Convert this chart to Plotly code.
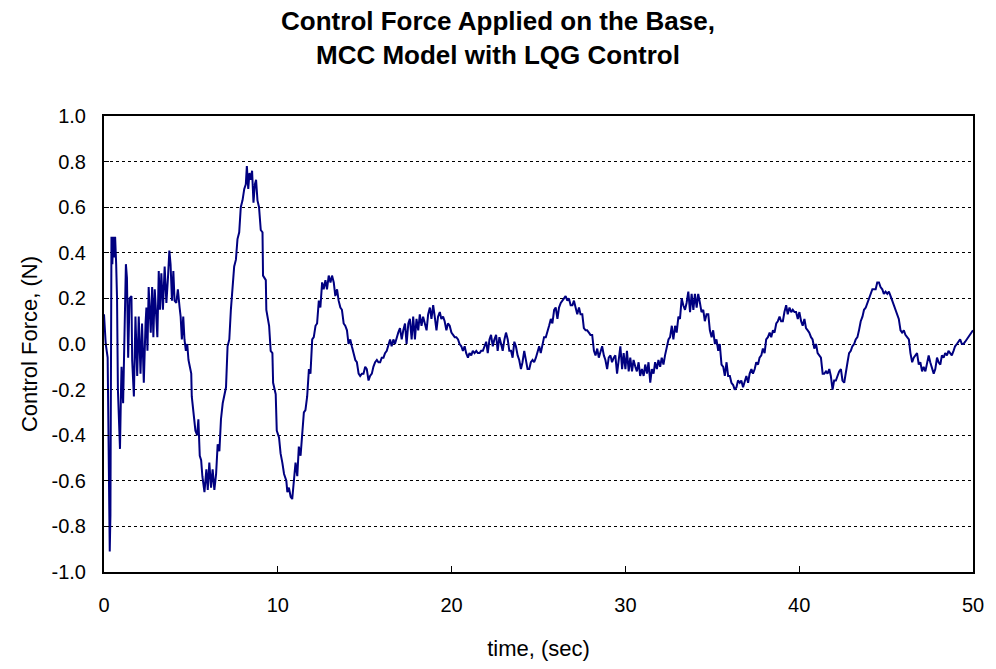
import plotly.graph_objects as go

# Control force time history (sec, N)
t_start = [0.00, 0.10, 0.21, 0.26, 0.30, 0.33, 0.37, 0.40, 0.43, 0.48, 0.53, 0.58, 0.64, 0.70,
           0.75, 0.80, 0.86, 0.92, 0.98, 1.01, 1.10, 1.16, 1.26, 1.32, 1.39, 1.47, 1.58, 1.62,
           1.72, 1.81, 1.91, 2.00, 2.10, 2.19, 2.29, 2.39, 2.44, 2.50, 2.57, 2.69, 2.77, 2.84,
           2.92, 3.00, 3.07, 3.15, 3.22, 3.30, 3.39, 3.49, 3.59, 3.68, 3.76, 3.83, 3.91, 3.99,
           4.06, 4.16, 4.25, 4.35, 4.41, 4.48, 4.56, 4.63, 4.71, 4.79, 4.86, 4.94, 5.02, 5.05,
           5.13, 5.21, 5.26, 5.36, 5.43, 5.51, 5.59, 5.66, 5.78, 5.89, 5.97, 6.06, 6.16, 6.25,
           6.35, 6.45, 6.54, 6.64, 6.73, 6.83, 6.92, 7.02, 7.11, 7.21, 7.30, 7.40, 7.49, 7.59,
           7.68, 7.78, 7.87, 7.97, 8.07, 8.16, 8.22, 8.30, 8.37, 8.45, 8.52, 8.60, 8.68, 8.75,
           8.83]
f_start = [0.13, 0.00, -0.06, -0.50, -0.85, -0.91, -0.75, -0.10, 0.47, 0.35, 0.47, 0.38, 0.47, 0.35,
           0.20, -0.20, -0.37, -0.46, -0.20, -0.10, -0.26, 0.00, 0.35, 0.29, -0.06, 0.20, 0.21, -0.07,
           -0.23, 0.12, -0.14, 0.12, -0.13, 0.09, -0.17, 0.09, 0.16, -0.03, 0.25, 0.05, 0.25, 0.03,
           0.24, 0.13, 0.03, 0.32, 0.15, 0.31, 0.15, 0.34, 0.18, 0.29, 0.41, 0.35, 0.19, 0.32,
           0.19, 0.18, 0.24, 0.16, 0.12, 0.02, 0.12, 0.02, -0.03, 0.00, -0.07, -0.10, -0.13, -0.23,
           -0.29, -0.33, -0.38, -0.40, -0.33, -0.49, -0.51, -0.58, -0.65, -0.55, -0.64, -0.52, -0.63, -0.55,
           -0.64, -0.57, -0.44, -0.47, -0.33, -0.26, -0.23, -0.19, -0.01, 0.02, 0.15, 0.24, 0.34, 0.37,
           0.46, 0.49, 0.60, 0.63, 0.68, 0.70, 0.78, 0.68, 0.75, 0.72, 0.76, 0.62, 0.70, 0.72,
           0.63]

t_mid = [8.92, 9.02, 9.12, 9.15, 9.31, 9.34, 9.50, 9.59, 9.69, 9.73, 9.88, 9.94, 10.07, 10.16,
         10.26, 10.36, 10.49, 10.55, 10.64, 10.74, 10.83, 10.93, 11.02, 11.12, 11.21, 11.31, 11.40,
         11.50, 11.59, 11.69, 11.79, 11.88, 11.98, 12.07, 12.17, 12.26, 12.36, 12.45, 12.55, 12.64,
         12.74, 12.83, 12.93, 13.03, 13.12, 13.22, 13.31, 13.41, 13.50, 13.60, 13.69, 13.79, 13.88,
         13.98, 14.07, 14.17, 14.26, 14.36, 14.46, 14.55, 14.65, 14.74, 14.84, 14.93, 15.03, 15.12,
         15.22, 15.31, 15.41, 15.50, 15.60, 15.70, 15.79, 15.89, 15.98, 16.08, 16.17, 16.27, 16.36,
         16.46, 16.55, 16.65, 16.74, 16.84, 16.93, 17.03, 17.13, 17.22, 17.32, 17.41, 17.51, 17.60,
         17.70, 17.79, 17.89, 17.98, 18.08, 18.17, 18.27, 18.36, 18.46, 18.56]
f_mid = [0.60, 0.50, 0.49, 0.30, 0.28, 0.15, 0.08, -0.03, -0.04, -0.17, -0.22, -0.38, -0.41, -0.48,
         -0.52, -0.57, -0.60, -0.65, -0.63, -0.67, -0.68, -0.58, -0.52, -0.58, -0.45, -0.49, -0.39,
         -0.30, -0.29, -0.23, -0.11, -0.13, 0.02, 0.03, 0.08, 0.09, 0.19, 0.16, 0.27, 0.24,
         0.28, 0.24, 0.30, 0.27, 0.30, 0.27, 0.21, 0.24, 0.19, 0.16, 0.15, 0.09, 0.08,
         0.06, 0.00, 0.02, -0.01, -0.04, -0.07, -0.08, -0.13, -0.14, -0.13, -0.13, -0.10, -0.11,
         -0.16, -0.14, -0.13, -0.10, -0.08, -0.07, -0.08, -0.08, -0.06, -0.06, -0.04, -0.03, 0.00,
         0.02, -0.01, 0.02, 0.00, 0.03, 0.05, 0.07, 0.02, 0.06, 0.09, 0.00, 0.09, 0.11,
         0.02, 0.12, 0.02, 0.11, 0.06, 0.13, 0.08, 0.12, 0.09, 0.06]

t_late = [18.65, 18.75, 18.84, 18.94, 19.03, 19.13, 19.22, 19.32, 19.41, 19.51, 19.60, 19.70, 19.79,
          19.89, 19.99, 20.08, 20.18, 20.27, 20.37, 20.46, 20.56, 20.65, 20.75, 20.84, 20.94, 21.03,
          21.13, 21.22, 21.32, 21.42, 21.51, 21.61, 21.70, 21.80, 21.89, 21.99, 22.08, 22.18, 22.27,
          22.37, 22.46, 22.56, 22.65, 22.75, 22.85, 22.94, 23.04, 23.13, 23.23, 23.32, 23.42, 23.51,
          23.61, 23.70, 23.80, 23.89, 23.99, 24.08, 24.18, 24.28, 24.37, 24.47, 24.56, 24.66, 24.75,
          24.85, 24.94, 25.04, 25.13, 25.23, 25.32, 25.42, 25.51, 25.61, 25.71, 25.80, 25.90, 25.99,
          26.09, 26.18, 26.28, 26.37, 26.47, 26.56, 26.66, 26.75, 26.85, 26.95, 27.04, 27.14, 27.23,
          27.33, 27.42, 27.52, 27.61, 27.71, 27.80, 27.90, 27.99, 28.09, 28.19, 28.28, 28.38, 28.47,
          28.57, 28.66, 28.76, 28.85, 28.95, 29.04, 29.14, 29.23, 29.33, 29.42, 29.52, 29.62, 29.71,
          29.81, 29.90, 30.00, 30.09, 30.19, 30.28, 30.38, 30.47, 30.57, 30.66, 30.76, 30.85, 30.95,
          31.05, 31.14, 31.24, 31.33, 31.43, 31.52, 31.62, 31.71, 31.81, 31.90, 32.00, 32.09, 32.19,
          32.28, 32.38, 32.48, 32.57, 32.67, 32.76, 32.86, 32.95, 33.05, 33.14, 33.24, 33.33, 33.43,
          33.52, 33.62, 33.72, 33.81, 33.91, 34.00, 34.10, 34.19, 34.29, 34.38, 34.48, 34.57, 34.67]
f_late = [0.13, 0.16, 0.11, 0.17, 0.12, 0.06, 0.12, 0.14, 0.11, 0.12, 0.10, 0.06, 0.09,
          0.08, 0.05, 0.04, 0.03, 0.03, 0.02, 0.00, -0.01, -0.03, -0.01, -0.04, -0.06, -0.04,
          -0.05, -0.03, -0.04, -0.03, -0.04, -0.04, -0.03, -0.03, -0.01, 0.01, -0.04, 0.02, 0.04,
          -0.01, 0.02, 0.04, -0.03, 0.03, 0.00, -0.03, 0.02, 0.05, 0.02, -0.03, -0.03, -0.06,
          0.01, -0.01, -0.05, -0.07, -0.11, -0.08, -0.03, -0.07, -0.11, -0.11, -0.08, -0.07, -0.08,
          -0.06, -0.03, -0.01, -0.04, -0.01, 0.03, 0.03, 0.06, 0.08, 0.11, 0.09, 0.15, 0.16,
          0.11, 0.16, 0.18, 0.19, 0.20, 0.21, 0.19, 0.20, 0.17, 0.17, 0.19, 0.16, 0.13,
          0.16, 0.13, 0.13, 0.07, 0.06, 0.06, 0.05, 0.04, 0.04, -0.03, -0.05, -0.02, -0.06,
          -0.03, -0.01, -0.05, -0.07, -0.11, -0.06, -0.05, -0.08, -0.06, -0.05, -0.13, -0.05, -0.01,
          -0.11, -0.04, -0.11, -0.03, -0.12, -0.06, -0.12, -0.07, -0.10, -0.12, -0.08, -0.14, -0.11,
          -0.14, -0.09, -0.13, -0.08, -0.17, -0.11, -0.13, -0.08, -0.11, -0.07, -0.10, -0.06, -0.09,
          -0.05, -0.01, 0.02, 0.03, 0.08, 0.02, 0.08, 0.05, 0.12, 0.11, 0.20, 0.17, 0.15,
          0.18, 0.23, 0.14, 0.22, 0.15, 0.22, 0.16, 0.22, 0.18, 0.14, 0.15, 0.10, 0.13]

t_end = [34.77, 34.86, 34.96, 35.05, 35.15, 35.24, 35.34, 35.43, 35.53, 35.63, 35.72, 35.82, 35.91,
         36.01, 36.10, 36.20, 36.29, 36.39, 36.48, 36.58, 36.67, 36.77, 36.87, 36.96, 37.06, 37.15,
         37.25, 37.34, 37.44, 37.53, 37.63, 37.72, 37.82, 37.91, 38.01, 38.10, 38.20, 38.30, 38.39,
         38.49, 38.58, 38.68, 38.77, 38.87, 38.96, 39.06, 39.15, 39.25, 39.34, 39.44, 39.54, 39.63,
         39.73, 39.82, 39.92, 40.01, 40.11, 40.20, 40.30, 40.39, 40.49, 40.58, 40.68, 40.77, 40.87,
         40.97, 41.06, 41.16, 41.25, 41.35, 41.44, 41.54, 41.63, 41.73, 41.82, 41.92, 42.01, 42.11,
         42.20, 42.30, 42.40, 42.49, 42.59, 42.68, 42.78, 42.87, 42.97, 43.06, 43.16, 43.25, 43.35,
         43.44, 43.54, 43.64, 43.73, 43.83, 43.92, 44.02, 44.11, 44.21, 44.30, 44.40, 44.49, 44.59,
         44.68, 44.78, 44.87, 44.97, 45.07, 45.16, 45.26, 45.35, 45.45, 45.54, 45.64, 45.73, 45.83,
         45.92, 46.02, 46.11, 46.21, 46.31, 46.40, 46.50, 46.59, 46.69, 46.78, 46.88, 46.97, 47.07,
         47.16, 47.26, 47.35, 47.45, 47.54, 47.64, 47.74, 47.83, 47.93, 48.02, 48.12, 48.21, 48.31,
         48.40, 48.50, 48.59, 48.69, 48.78, 48.88, 48.97, 49.07, 49.17, 49.26, 49.36, 49.45, 49.55,
         49.64, 49.74, 49.83, 49.93, 50.00]
f_end = [0.13, 0.06, 0.03, 0.06, 0.00, 0.02, -0.03, 0.00, -0.09, -0.10, -0.14, -0.08, -0.14,
         -0.14, -0.17, -0.18, -0.20, -0.19, -0.16, -0.17, -0.16, -0.19, -0.16, -0.14, -0.17, -0.13,
         -0.11, -0.13, -0.11, -0.08, -0.09, -0.06, -0.05, -0.02, -0.04, 0.02, 0.03, 0.05, 0.03,
         0.06, 0.05, 0.09, 0.10, 0.12, 0.10, 0.10, 0.14, 0.17, 0.13, 0.16, 0.14, 0.15,
         0.14, 0.14, 0.11, 0.14, 0.10, 0.08, 0.11, 0.07, 0.06, 0.05, 0.03, 0.02, -0.02,
         0.00, -0.04, -0.05, -0.06, -0.13, -0.13, -0.12, -0.13, -0.11, -0.14, -0.20, -0.16, -0.16,
         -0.14, -0.12, -0.11, -0.16, -0.17, -0.12, -0.08, -0.04, -0.03, -0.01, 0.00, 0.02, 0.03,
         0.06, 0.10, 0.12, 0.15, 0.16, 0.18, 0.20, 0.22, 0.24, 0.24, 0.24, 0.27, 0.27,
         0.25, 0.24, 0.22, 0.23, 0.22, 0.23, 0.21, 0.19, 0.17, 0.15, 0.13, 0.11, 0.06,
         0.05, 0.06, 0.04, 0.03, 0.02, -0.04, -0.08, -0.06, -0.05, -0.04, -0.09, -0.08, -0.12,
         -0.10, -0.12, -0.08, -0.05, -0.08, -0.11, -0.13, -0.11, -0.06, -0.08, -0.09, -0.05, -0.06,
         -0.04, -0.05, -0.03, -0.04, -0.05, -0.03, -0.01, 0.00, 0.01, 0.02, 0.00, 0.00, 0.01,
         0.02, 0.03, 0.04, 0.05, 0.06]

time = t_start + t_mid + t_late + t_end
force = f_start + f_mid + f_late + f_end

x_ticks = [0, 10, 20, 30, 40, 50]
y_ticks = [-1.0, -0.8, -0.6, -0.4, -0.2, 0.0, 0.2, 0.4, 0.6, 0.8, 1.0]
y_tick_text = [f"{v:.1f}" for v in y_ticks]

FONT = "Liberation Sans, Arial, sans-serif"
NAVY = "#000080"

fig = go.Figure(
    go.Scatter(x=time, y=force, mode="lines",
               line=dict(color=NAVY, width=2), showlegend=False)
)

fig.update_layout(
    width=996, height=669,
    margin=dict(l=104, r=18, t=116, b=97),
    paper_bgcolor="white", plot_bgcolor="white",
    font=dict(family=FONT, color="black"),
    title=dict(
        text="<b>Control Force Applied on the Base,</b><br><b>MCC Model with LQG Control</b>",
        x=0.5, xref="container", xanchor="center",
        y=0.955, yref="container", yanchor="top",
        font=dict(family=FONT, size=26, color="black"),
    ),
)

fig.update_xaxes(
    range=[0, 50], tickvals=x_ticks, ticktext=[str(v) for v in x_ticks],
    showgrid=False, zeroline=False,
    showline=True, linecolor="black", linewidth=2, mirror=True,
    ticks="inside", ticklen=6, tickwidth=1, tickcolor="black",
    tickfont=dict(size=20), ticklabelstandoff=14,
    title=dict(text="time, (sec)", font=dict(size=22), standoff=26),
)

fig.update_yaxes(
    range=[-1.0, 1.0], tickvals=y_ticks, ticktext=y_tick_text,
    showgrid=True, gridcolor="black", gridwidth=1, griddash="dot",
    zeroline=False,
    showline=True, linecolor="black", linewidth=2, mirror=True,
    ticks="inside", ticklen=5, tickwidth=1, tickcolor="black",
    tickfont=dict(size=20), ticklabelstandoff=12,
    title=dict(text="Control Force, (N)", font=dict(size=22), standoff=8),
)

fig.write_html("out.html")
